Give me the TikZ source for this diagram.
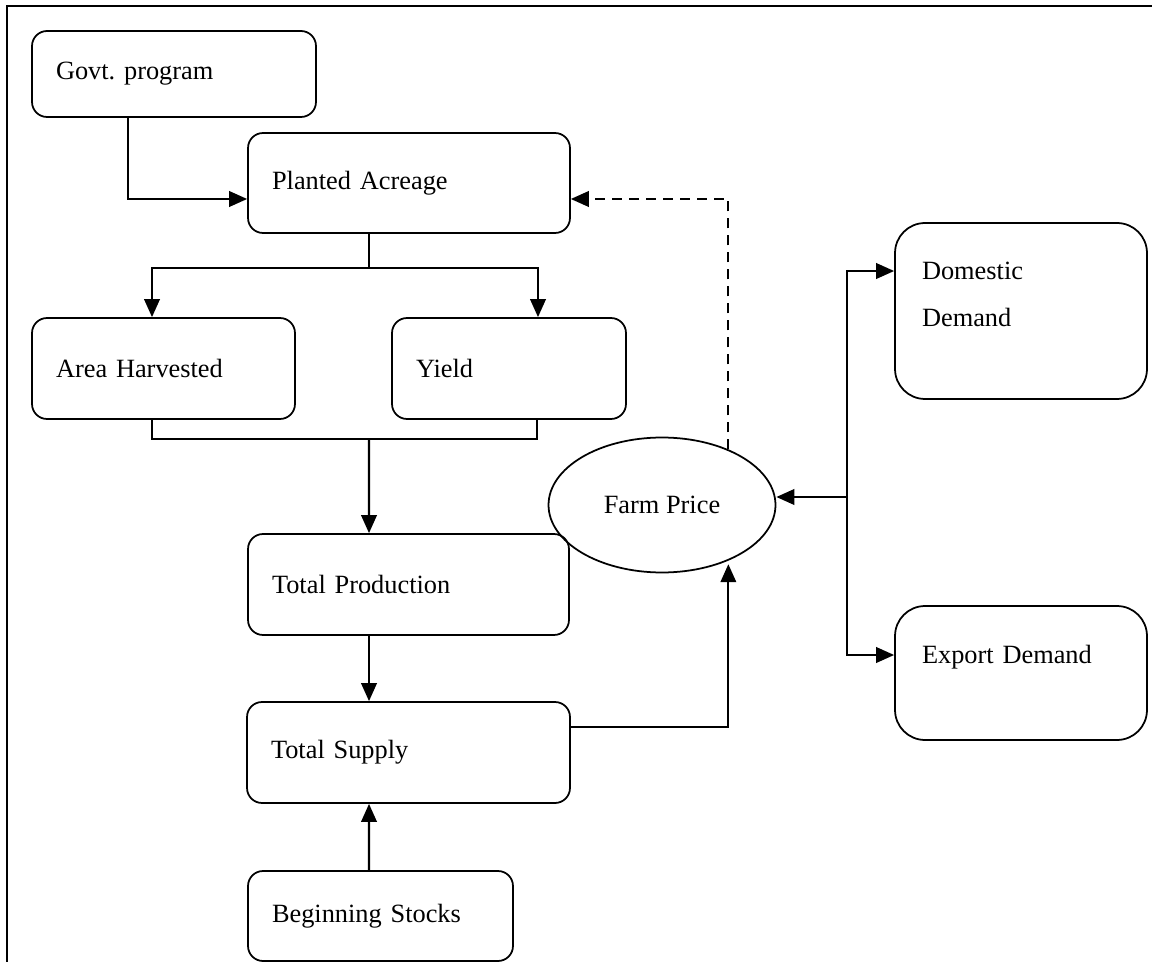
\documentclass[tikz,border=0pt]{standalone}
\usepackage{fontspec}
\setmainfont{Liberation Serif}
\usetikzlibrary{arrows.meta,positioning,shapes.geometric,calc}
\frenchspacing

\begin{document}
\begin{tikzpicture}[
    x=0.02cm, y=-0.02cm,
    box/.style={rectangle, draw, line width=1pt, rounded corners=0.3cm,
                inner xsep=0.48cm, inner ysep=0pt, align=left,
                font=\fontsize{15}{27}\selectfont},
    demandbox/.style={box, rounded corners=0.6cm, inner xsep=0.54cm},
    oval/.style={ellipse, draw, line width=1pt, inner sep=0pt,
                 minimum width=4.54cm, minimum height=2.7cm,
                 font=\fontsize{15}{27}\selectfont},
    arrow/.style={-{Triangle[length=0.36cm,width=0.31cm]}, line width=1.25pt},
    link/.style={line width=1.1pt},
    feedback/.style={arrow, dash pattern=on 0.2cm off 0.14cm}
]
\useasboundingbox (0,0) rectangle (1152,962);

% frame
\draw[line width=0.7pt] (1152,6) -- (7,6) -- (7,962);

% supply side
\node[box, text width=4.72cm, minimum height=1.72cm] (gov) at (174,74) {Govt. program};
\node[box, text width=5.48cm, minimum height=2cm] (plant) at (409,183) {Planted Acreage};
\node[box, text width=4.30cm, minimum height=2.02cm] (area) at (163.5,368.5) {Area Harvested};
\node[box, text width=3.72cm, minimum height=2.02cm] (yield) at (509,368.5) {Yield};
\node[box, text width=5.46cm, minimum height=2.02cm] (prod) at (408.5,584.5) {Total Production};
\node[box, text width=5.50cm, minimum height=2.02cm] (supply) at (408.5,752.5) {Total Supply};
\node[box, text width=4.34cm, minimum height=1.8cm] (stocks) at (380.5,916) {Beginning Stocks};

% price and demand
\node[oval] (price) at (662,505) {Farm Price};
\node[demandbox, text width=3.96cm, minimum height=3.52cm, text height=0.36cm, text depth=1.62cm]
    (dom) at (1021,311) {Domestic\\Demand};
\node[demandbox, text width=3.96cm, minimum height=2.68cm, text height=0.36cm, text depth=0.74cm]
    (export) at (1021,673) {Export Demand};

\coordinate (split) at (369,268);
\coordinate (join) at (369,439);
\coordinate (hub) at (847,497);

% connectors
\draw[arrow] ([xshift=-0.92cm]gov.south) |- ([yshift=-0.32cm]plant.west);
\draw[link] ([xshift=-0.8cm]plant.south) -- (split);
\draw[arrow] (split) -| ([xshift=-0.23cm]area.north);
\draw[arrow] (split) -| ([xshift=0.58cm]yield.north);
\draw[link] ([xshift=-0.23cm]area.south) |- (join) -| ([xshift=0.56cm]yield.south);
\draw[arrow] (join) -- ([xshift=-0.79cm]prod.north);
\draw[arrow] ([xshift=-0.79cm]prod.south) -- ([xshift=-0.79cm]supply.north);
\draw[arrow] ([xshift=-0.23cm]stocks.north) -- ([xshift=-0.79cm]supply.south);
\draw[arrow, shorten >=2pt] ([yshift=0.51cm]supply.east) -| (price.-40);
\draw[feedback] (price.40) |- ([yshift=-0.32cm]plant.east);
\draw[arrow] (hub) -- (hub -| price.east);
\draw[arrow] (hub) |- ([yshift=0.8cm]dom.west);
\draw[arrow] (hub) |- ([yshift=0.36cm]export.west);

\end{tikzpicture}
\end{document}
